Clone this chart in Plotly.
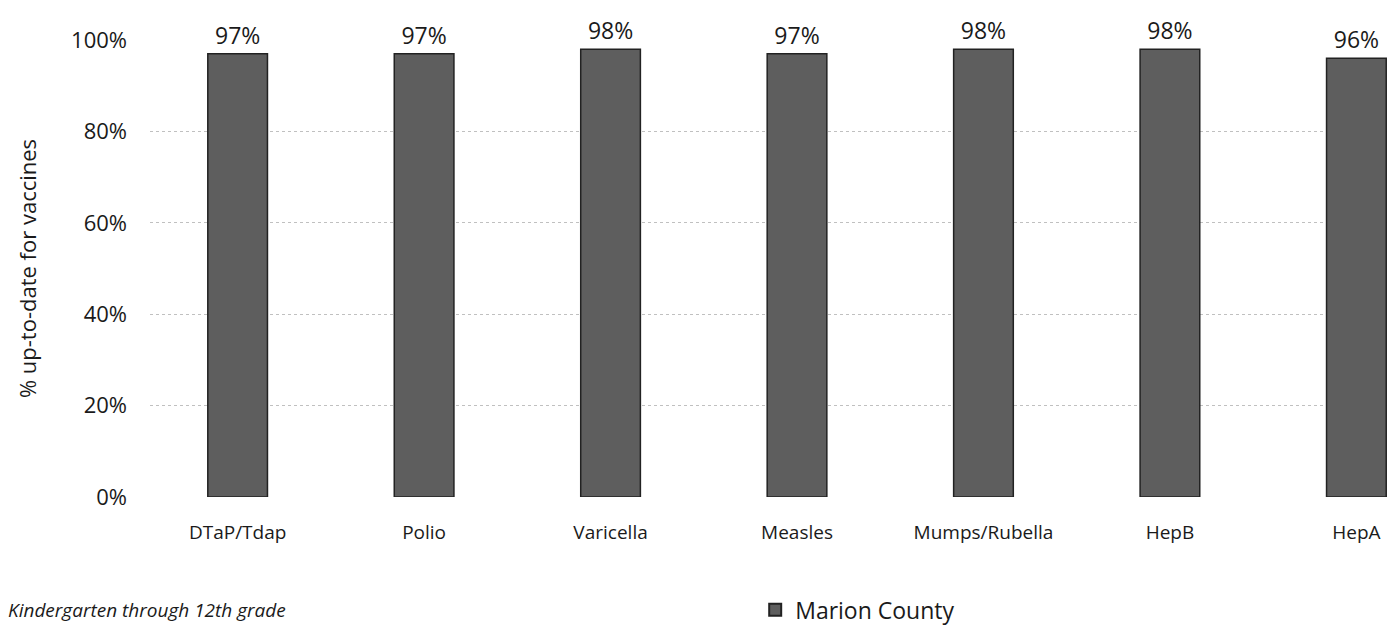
import plotly.graph_objects as go

categories = ["DTaP/Tdap", "Polio", "Varicella", "Measles", "Mumps/Rubella", "HepB", "HepA"]
values = [97, 97, 98, 97, 98, 98, 96]
value_labels = ["97%", "97%", "98%", "97%", "98%", "98%", "96%"]
y_tick_vals = [0, 20, 40, 60, 80, 100]
y_tick_text = ["0%", "20%", "40%", "60%", "80%", "100%"]
series_name = "Marion County"
footnote = "Kindergarten through 12th grade"

fig = go.Figure()
fig.add_trace(go.Bar(
    x=categories, y=values, name=series_name,
    text=value_labels, textposition="outside",
    textfont=dict(size=23, color="#1a1a1a"),
    marker=dict(color="#5e5e5e", line=dict(color="#222222", width=1.5)),
    width=0.32, cliponaxis=False,
))

fig.update_layout(
    width=1395, height=634,
    margin=dict(l=142, r=0, t=32, b=145),
    paper_bgcolor="white", plot_bgcolor="white",
    font=dict(family="Open Sans, Lato, sans-serif", color="#1a1a1a"),
    showlegend=True,
    legend=dict(orientation="h", x=0.483, y=-0.247, xanchor="left", yanchor="middle",
                font=dict(size=23), itemsizing="constant"),
    xaxis=dict(range=[-0.47, 6.25], showgrid=False, showline=False, ticks="",
               tickfont=dict(size=19), ticklabelstandoff=22),
    yaxis=dict(range=[0, 100], tickvals=y_tick_vals, ticktext=y_tick_text,
               tickfont=dict(size=22), ticklabelstandoff=22,
               showgrid=True, gridcolor="#c0c0c0",
               griddash="dot", gridwidth=1, zeroline=False,
               title=dict(text="% up-to-date for vaccines", font=dict(size=22), standoff=28)),
    annotations=[dict(text=footnote, xref="paper", yref="paper", x=-0.115, y=-0.215,
                      xanchor="left", yanchor="top", showarrow=False,
                      font=dict(size=19, style="italic"))],
)

fig.write_html("out.html")
